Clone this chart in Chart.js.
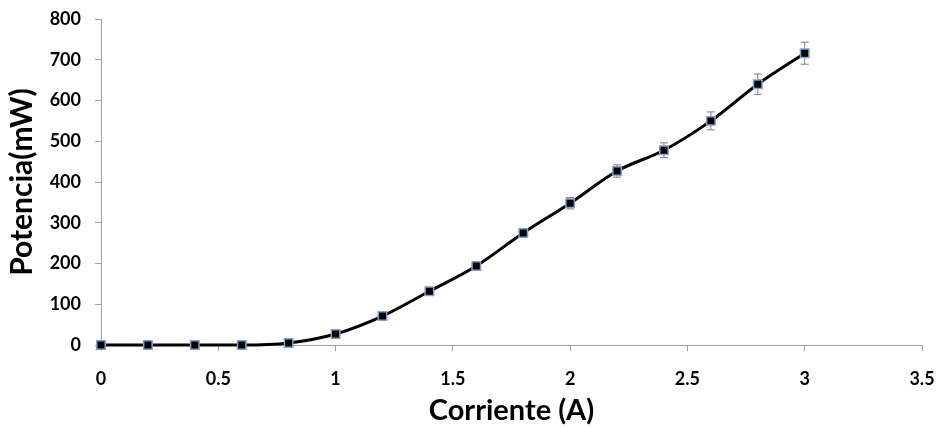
<!DOCTYPE html>
<html>
<head>
<meta charset="utf-8">
<script src="https://cdn.jsdelivr.net/npm/chart.js@4"></script>
<style>
  html, body { margin: 0; padding: 0; background: #fff; }
  #wrap { width: 939px; height: 428px; position: relative; }
</style>
</head>
<body>
<div id="wrap"><canvas id="powerChart"></canvas></div>
<script>
// corriente (A) vs potencia (mW)
const corriente = [0, 0.2, 0.4, 0.6, 0.8, 1.0, 1.2, 1.4, 1.6, 1.8, 2.0, 2.2, 2.4, 2.6, 2.8, 3.0];
const potencia = [0, 0, 0, 0, 5, 27, 71, 132, 194, 275, 348, 427, 478, 550, 640, 716];
const errorPot = [0, 0, 0, 0, 0, 1, 3, 5, 8, 11, 14, 15, 18, 22, 25, 27];
const xTicks = [0, 0.5, 1, 1.5, 2, 2.5, 3, 3.5];
const yTicks = [0, 100, 200, 300, 400, 500, 600, 700, 800];

const FONT = "Lato, 'Open Sans', sans-serif";
const AXIS_GRAY = "#a0a0a0";

// draws the vertical error bars with caps
const errorBars = {
  id: "errorBars",
  beforeDatasetsDraw(chart) {
    const { ctx, scales: { x, y } } = chart;
    ctx.save();
    ctx.strokeStyle = "#7f7f7f";
    ctx.lineWidth = 1;
    corriente.forEach((c, i) => {
      const e = errorPot[i];
      if (!e) return;
      const px = x.getPixelForValue(c);
      const top = y.getPixelForValue(potencia[i] + e);
      const bot = y.getPixelForValue(potencia[i] - e);
      ctx.beginPath();
      ctx.moveTo(px, top); ctx.lineTo(px, bot);
      ctx.moveTo(px - 4, top); ctx.lineTo(px + 4, top);
      ctx.moveTo(px - 4, bot); ctx.lineTo(px + 4, bot);
      ctx.stroke();
    });
    ctx.restore();
  }
};

new Chart(document.getElementById("powerChart"), {
  type: "line",
  data: {
    datasets: [{
      data: corriente.map((c, i) => ({ x: c, y: potencia[i] })),
      borderColor: "#000",
      borderWidth: 3,
      cubicInterpolationMode: "monotone",
      pointStyle: "rect",
      pointRadius: 6,
      pointBackgroundColor: "#000",
      pointBorderColor: "#7fa3d1",
      pointBorderWidth: 1.5,
      clip: false
    }]
  },
  options: {
    responsive: true,
    maintainAspectRatio: false,
    animation: false,
    layout: { padding: { top: 19, right: 17, left: 0, bottom: 0 } },
    plugins: { legend: { display: false }, tooltip: { enabled: false } },
    scales: {
      x: {
        type: "linear",
        min: 0, max: 3.5,
        afterBuildTicks: s => { s.ticks = xTicks.map(v => ({ value: v })); },
        afterFit: s => { s.height = 83; s.paddingLeft = 0; s.paddingRight = 0; },
        border: { display: true, color: AXIS_GRAY, width: 1 },
        grid: { drawOnChartArea: false, drawTicks: true, tickLength: 6, color: AXIS_GRAY },
        ticks: { color: "#000", font: { family: FONT, size: 18, weight: "bold" }, padding: 17, maxRotation: 0,
                 callback: v => String(v) },
        title: { display: true, text: "Corriente (A)", color: "#000", font: { family: FONT, size: 29, weight: "bold" }, padding: { top: 0, bottom: 0 } }
      },
      y: {
        min: 0, max: 800,
        afterBuildTicks: s => { s.ticks = yTicks.map(v => ({ value: v })); },
        afterFit: s => { s.width = 101; s.paddingTop = 0; s.paddingBottom = 0; },
        border: { display: true, color: AXIS_GRAY, width: 1 },
        grid: { drawOnChartArea: false, drawTicks: true, tickLength: 6, color: AXIS_GRAY },
        ticks: { color: "#000", font: { family: FONT, size: 18, weight: "bold" }, padding: 14,
                 callback: v => String(v) },
        title: { display: true, text: "Potencia(mW)", color: "#000", font: { family: FONT, size: 30, weight: "bold" }, padding: { top: 4, bottom: 0 } }
      }
    }
  },
  plugins: [errorBars]
});
</script>
</body>
</html>
